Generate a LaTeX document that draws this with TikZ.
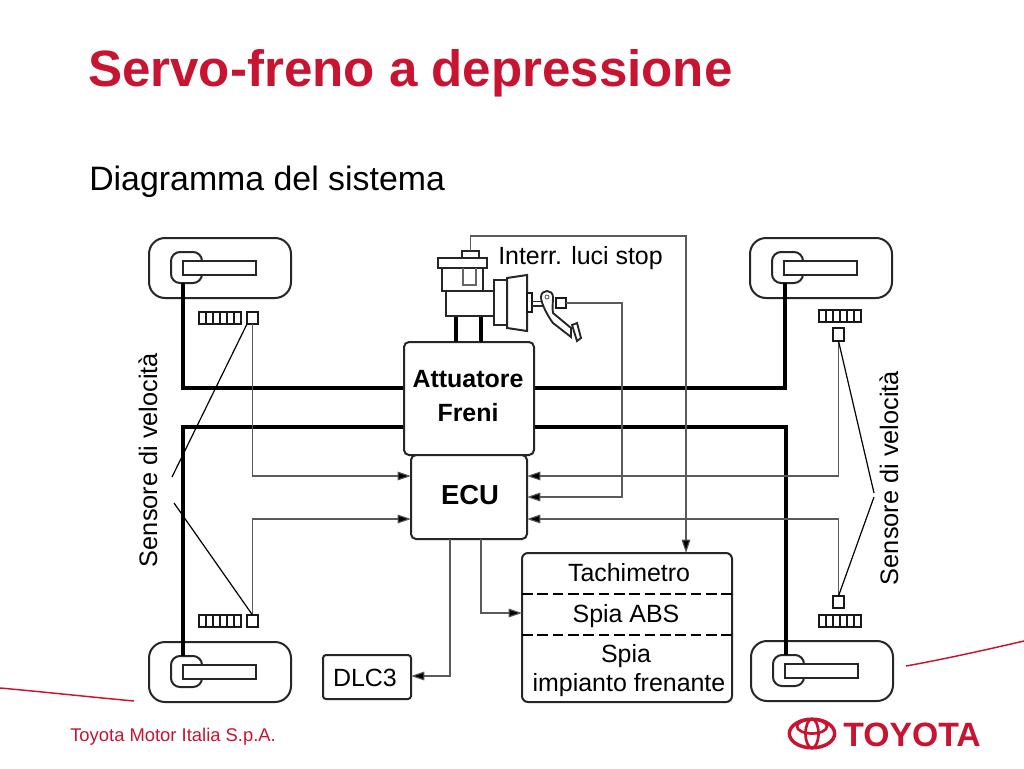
\documentclass[tikz,border=0pt]{standalone}
\usepackage{fontspec}
\setmainfont{Liberation Sans}
\usetikzlibrary{arrows.meta,calc,shapes.geometric}
\definecolor{tred}{HTML}{C81431}
\definecolor{wire}{HTML}{5A5A5A}
\tikzset{
  x=0.75pt,y=-0.75pt,
  outline/.style={draw=black!85,line width=1.5pt,fill=white,inner sep=0pt,outer sep=0pt},
  thin box/.style={draw=black!90,line width=1.3pt,inner sep=0pt,outer sep=0pt,fill=white},
  pipe/.style={draw=black,line width=3pt},
  signal/.style={draw=wire,line width=0.8pt},
  sigarrow/.style={signal,-{Stealth[length=10pt,width=6.5pt,inset=0pt,fill=black]}},
  leader/.style={draw=black,line width=0.9pt},
  label/.style={font=\fontsize{18.7}{22}\selectfont,inner sep=0pt,anchor=base,text=black},
  redline/.style={draw=tred,line width=1.1pt},
}
% name, x1, y1, x2, y2, radius, style
\newcommand{\pxbox}[7]{%
  \pgfmathsetmacro{\bw}{((#4)-(#2))*0.75}\pgfmathsetmacro{\bh}{((#5)-(#3))*0.75}%
  \pgfmathsetmacro{\cx}{((#2)+(#4))/2}\pgfmathsetmacro{\cy}{((#3)+(#5))/2}%
  \pgfmathsetmacro{\rr}{(#6)*0.75}%
  \node[#7,minimum width=\bw pt,minimum height=\bh pt,rounded corners=\rr pt] (#1) at (\cx,\cy) {};}
% wheel: name, x1, y1 of the outer box
\newcommand{\wheel}[3]{%
  \pxbox{#1}{#2}{#3}{#2+142}{#3+60}{16}{outline}
  \pxbox{#1hub}{#2+22}{#3+14}{#2+53}{#3+45}{9}{outline}
  \pxbox{#1bar}{#2+34}{#3+22.5}{#2+107}{#3+36.5}{0}{outline}}
% toothed ring: name, x1, y1
\newcommand{\ring}[3]{%
  \pxbox{#1}{#2}{#3}{#2+42}{#3+12}{0}{thin box}
  \foreach \k in {7,14,21,28,35}{\draw[black!90,line width=1pt] (#2+\k,#3) -- (#2+\k,#3+12);}}
\begin{document}
\begin{tikzpicture}
\useasboundingbox[fill=white] (0,0) rectangle (1024,768);

% titles
\node[font=\fontsize{38.3}{42}\bfseries\selectfont,text=tred,anchor=base west,inner sep=0pt] (title) at (88,86) {Servo-freno a depressione};
\node[font=\fontsize{25.4}{30}\selectfont,anchor=base west,inner sep=0pt] (subtitle) at (89,190) {Diagramma del sistema};
\node[font=\fontsize{13.8}{16}\selectfont,text=tred,anchor=base west,inner sep=0pt] (footer) at (70,741) {Toyota Motor Italia S.p.A.};

% red accents
\draw[redline] (0,688) .. controls (45,692) and (90,697) .. (134,701);
\draw[redline] (906,666) .. controls (945,659) and (985,650) .. (1024,641);

% Toyota logo
\node[draw=tred,line width=2.6pt,ellipse,minimum width=34pt,minimum height=21.5pt,inner sep=0pt] (logoA) at (812,733.5) {};
\draw[tred,line width=2pt] (812,733.5) ellipse [x radius=6.5,y radius=14.5];
\draw[tred,line width=2pt] (812,726.5) ellipse [x radius=15,y radius=7];
\node[font=\fontsize{25.3}{26}\bfseries\selectfont,text=tred,anchor=base west,inner sep=0pt] (logoT) at (843,746) {TOYOTA};

% pipes
\coordinate (tlbend) at (183,388);
\coordinate (blbend) at (183,427);
\coordinate (trbend) at (785,388);
\coordinate (brbend) at (786,427);

% wheels
\wheel{wtl}{149}{238}
\wheel{wtr}{750}{238}
\wheel{wbl}{149}{642}
\wheel{wbr}{751}{641}

% wheel pipes
\draw[pipe] (183,283) -- (tlbend) -- (404,388);
\draw[pipe] (183,656) -- (blbend) -- (404,427);
\draw[pipe] (785,283) -- (trbend) -- (534,388);
\draw[pipe] (786,655) -- (brbend) -- (534,427);

% sensors
\ring{rtl}{199}{312}
\ring{rbl}{199}{615}
\ring{rtr}{819}{310}
\ring{rbr}{819}{615}
\pxbox{stl}{247}{312}{258}{324}{0}{thin box}
\pxbox{sbl}{247}{615}{258}{627}{0}{thin box}
\pxbox{str}{833}{328}{844}{341}{0}{thin box}
\pxbox{sbr}{833}{596}{844}{608}{0}{thin box}

% boxes
\pxbox{act}{404}{342}{534}{455}{5}{outline}
\pxbox{ecu}{411}{455}{527}{539}{5}{outline}
\pxbox{disp}{522}{553}{732}{702}{6}{outline}
\pxbox{dlc}{323}{655}{411}{699}{3}{outline}
\draw[black,line width=1.1pt,dash pattern=on 8pt off 3.5pt] (522,594) -- (732,594);
\draw[black,line width=1.1pt,dash pattern=on 8pt off 3.5pt] (522,635) -- (732,635);

% master cylinder and booster
\draw[pipe] (456,316) -- (456,342);
\draw[pipe] (481,316) -- (481,342);
\pxbox{cyl}{446}{291}{494}{316}{0}{outline}
\pxbox{res}{442}{268}{483}{291}{0}{outline}
\pxbox{lid}{438}{258}{487}{268}{0}{outline}
\pxbox{cap}{462}{251}{479}{258}{0}{outline}
\draw[black!60,line width=1pt] (463,268) -- (463,285) -- (476,285) -- (476,268);
\pxbox{boost}{494}{280}{507}{325}{0}{outline}
\draw[black!85,line width=1.5pt,fill=white] (507,278) -- (527,275) -- (527,331) -- (507,328) -- cycle;
\pxbox{boostb}{527}{293}{532}{312}{0}{thin box}
\draw[black!85,line width=1.1pt] (532,301.5) -- (542,301.5) (532,306) -- (545,306);
% pedal
\draw[black!85,line width=1.4pt,fill=white]
  (541,297) .. controls (541,289) and (553,289) .. (553,297)
  .. controls (553,303) and (552,308) .. (553,313)
  -- (571,328) -- (571,337) -- (553,323)
  .. controls (549,318) and (541,304) .. (541,297) -- cycle;
\draw[black!85,line width=1.4pt,fill=white] (572,325) -- (577,323) -- (581,338) -- (577,341) -- cycle;
\draw[black!60,line width=0.7pt] (547,297) circle [radius=2];
\pxbox{sw}{556}{298}{566}{308}{0}{thin box}

% signal coordinates on the ECU and display
\coordinate (estl) at (411,476);
\coordinate (esbl) at (411,519);
\coordinate (estr) at (527,476);
\coordinate (esbr) at (527,519);
\coordinate (esw) at (527,497);
\coordinate (edn1) at (450,539);
\coordinate (edn2) at (481,539);
\coordinate (dabs) at (522,613);
\coordinate (dtop) at (686,553);
\coordinate (dlcin) at (411,676);
\coordinate (topy) at (0,236);

\draw[sigarrow] (stl.south) -- (stl.south |- estl) -- (estl);
\draw[sigarrow] (sbl.north) -- (sbl.north |- esbl) -- (esbl);
\draw[sigarrow] (str.south) -- (str.south |- estr) -- (estr);
\draw[sigarrow] (sbr.north) -- (sbr.north |- esbr) -- (esbr);
\draw[sigarrow] (sw.east) -- (622,303) -- (622,497) -- (esw);
\draw[sigarrow] (cap.north) -- (cap.north |- topy) -- (dtop |- topy) -- (dtop);
\draw[sigarrow] (edn2) -- (edn2 |- dabs) -- (dabs);
\draw[sigarrow] (edn1) -- (edn1 |- dlcin) -- (dlcin);

% leaders
\coordinate (ll1) at (172,477);
\coordinate (ll2) at (174,503);
\coordinate (lr1) at (874,493);
\coordinate (lr2) at (874,497);
\draw[leader] (stl.south west) -- (ll1);
\draw[leader] (ll2) -- (sbl.north);
\draw[leader] (str.south) -- (lr1);
\draw[leader] (lr2) -- (sbr.north);

% labels
\node[label,anchor=base west] (stop) at (498,264) {Interr. luci stop};
\node[label,font=\fontsize{19}{22}\selectfont,rotate=90] (sensL) at (157,460) {Sensore di velocità};
\node[label,font=\fontsize{19}{22}\selectfont,rotate=90] (sensR) at (898,478) {Sensore di velocità};
\node[label,font=\fontsize{18.7}{22}\bfseries\selectfont] (att1) at (468,387) {Attuatore};
\node[label,font=\fontsize{18.7}{22}\bfseries\selectfont] (att2) at (468,421) {Freni};
\node[label,font=\fontsize{20.6}{24}\bfseries\selectfont] (ecut) at (470,504) {ECU};
\node[label] (t1) at (629,581) {Tachimetro};
\node[label] (t2) at (626,622) {Spia ABS};
\node[label] (t3) at (626,662) {Spia};
\node[label] (t4) at (629,691) {impianto frenante};
\node[label] (dlct) at (365,686) {DLC3};
\end{tikzpicture}
\end{document}
